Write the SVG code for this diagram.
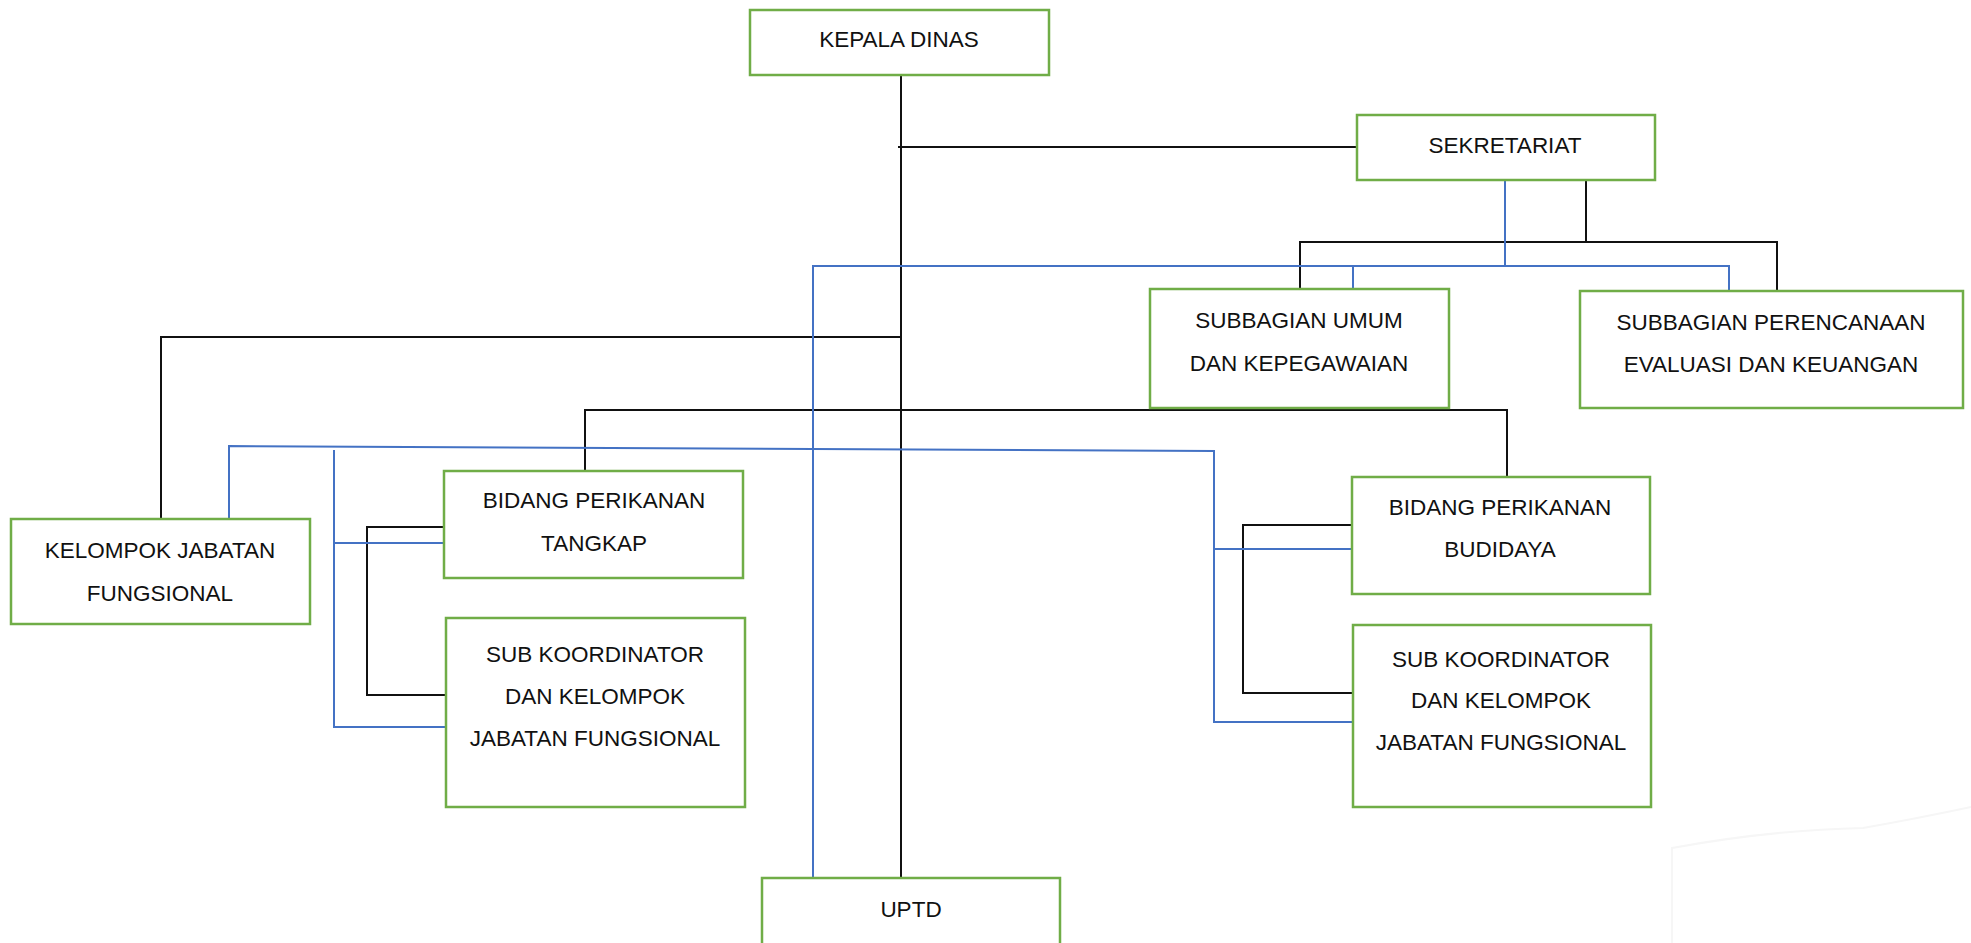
<svg xmlns="http://www.w3.org/2000/svg" width="1971" height="943" viewBox="0 0 1971 943">
<style>
.box{fill:#ffffff;stroke:#70AD47;stroke-width:2.5}
.t{font-family:"Liberation Sans",Arial,sans-serif;font-size:22.5px;fill:#111111;text-anchor:middle}
.k{stroke:#111111;stroke-width:2;fill:none}
.b{stroke:#4472C4;stroke-width:2;fill:none}
</style>
<rect width="1971" height="943" fill="#ffffff"/>
<path d="M1672,943 L1672,848 Q1770,830 1863,828 Q1920,818 1971,807" fill="none" stroke="#f6f6f6" stroke-width="2"/>
<g id="connectors">
<line class="k" x1="901" y1="75" x2="901" y2="878"/>
<line class="k" x1="898" y1="147" x2="1357" y2="147"/>
<line class="k" x1="1586" y1="180" x2="1586" y2="243"/>
<polyline class="k" points="1300,289 1300,242 1777,242 1777,291"/>
<polyline class="k" points="161,519 161,337 901,337"/>
<polyline class="k" points="585,471 585,410 1507,410 1507,477"/>
<polyline class="k" points="444,527 367,527 367,695 449,695"/>
<polyline class="k" points="1353,525 1243,525 1243,693 1354,693"/>
<line class="b" x1="1505" y1="180" x2="1505" y2="266"/>
<polyline class="b" points="813,878 813,266 1729,266 1729,291"/>
<line class="b" x1="1353" y1="266" x2="1353" y2="289"/>
<polyline class="b" points="229,519 229,446 1214,451 1214,722 1354,722"/>
<line class="b" x1="1214" y1="549" x2="1353" y2="549"/>
<polyline class="b" points="334,450 334,727 449,727"/>
<line class="b" x1="334" y1="543" x2="447" y2="543"/>
</g>
<g id="kepala-dinas">
<rect class="box" x="750" y="10" width="299" height="65"/>
<text class="t" x="899" y="47">KEPALA DINAS</text>
</g>
<g id="sekretariat">
<rect class="box" x="1357" y="115" width="298" height="65"/>
<text class="t" x="1505" y="153">SEKRETARIAT</text>
</g>
<g id="subbagian-umum">
<rect class="box" x="1150" y="289" width="299" height="119"/>
<text class="t" x="1299" y="328">SUBBAGIAN UMUM</text>
<text class="t" x="1299" y="371">DAN KEPEGAWAIAN</text>
</g>
<g id="subbagian-perencanaan">
<rect class="box" x="1580" y="291" width="383" height="117"/>
<text class="t" x="1771" y="330">SUBBAGIAN PERENCANAAN</text>
<text class="t" x="1771" y="372">EVALUASI DAN KEUANGAN</text>
</g>
<g id="kelompok-jabatan-fungsional">
<rect class="box" x="11" y="519" width="299" height="105"/>
<text class="t" x="160" y="558">KELOMPOK JABATAN</text>
<text class="t" x="160" y="601">FUNGSIONAL</text>
</g>
<g id="bidang-tangkap">
<rect class="box" x="444" y="471" width="299" height="107"/>
<text class="t" x="594" y="508">BIDANG PERIKANAN</text>
<text class="t" x="594" y="551">TANGKAP</text>
</g>
<g id="sub-koordinator-kiri">
<rect class="box" x="446" y="618" width="299" height="189"/>
<text class="t" x="595" y="662">SUB KOORDINATOR</text>
<text class="t" x="595" y="704">DAN KELOMPOK</text>
<text class="t" x="595" y="746">JABATAN FUNGSIONAL</text>
</g>
<g id="bidang-budidaya">
<rect class="box" x="1352" y="477" width="298" height="117"/>
<text class="t" x="1500" y="515">BIDANG PERIKANAN</text>
<text class="t" x="1500" y="557">BUDIDAYA</text>
</g>
<g id="sub-koordinator-kanan">
<rect class="box" x="1353" y="625" width="298" height="182"/>
<text class="t" x="1501" y="667">SUB KOORDINATOR</text>
<text class="t" x="1501" y="708">DAN KELOMPOK</text>
<text class="t" x="1501" y="750">JABATAN FUNGSIONAL</text>
</g>
<g id="uptd">
<rect class="box" x="762" y="878" width="298" height="80"/>
<text class="t" x="911" y="917">UPTD</text>
</g>
</svg>
